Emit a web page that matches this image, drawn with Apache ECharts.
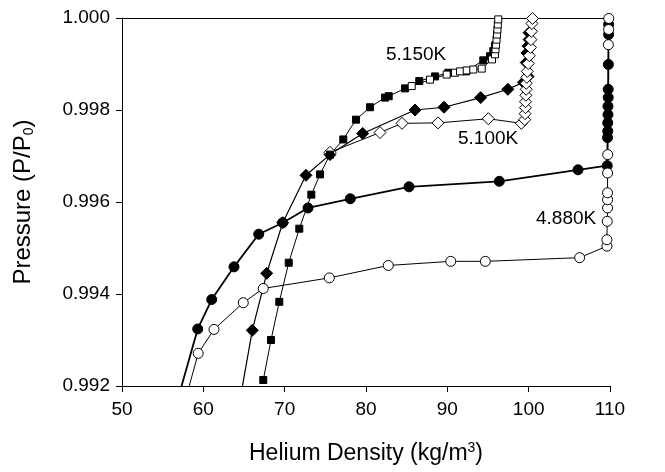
<!DOCTYPE html>
<html>
<head>
<meta charset="utf-8">
<script src="https://cdn.jsdelivr.net/npm/echarts@6/dist/echarts.min.js"></script>
<style>
html,body{margin:0;padding:0;background:#fff;}
#chart{width:665px;height:472px;}
</style>
</head>
<body>
<div id="chart"></div>
<script>
// x ticks / y ticks
const xTicks = [50, 60, 70, 80, 90, 100, 110];
const yTicks = [0.992, 0.994, 0.996, 0.998, 1.000];

// 4.880K filled circles [density, P/P0]
const k4880Filled = [
  [56.15,0.99127],[59.31,0.99324],[61.03,0.99388],[63.77,0.99459],[66.81,0.99530],
  [69.76,0.99555],[72.87,0.99587],[78.07,0.99607],[85.29,0.99633],[96.39,0.99645],
  [106.07,0.99670],[109.66,0.99679],[109.70,0.99740],[109.72,0.99754],[109.72,0.99772],
  [109.75,0.99790],[109.75,0.99808],[109.78,0.99827],[109.78,0.99845],[109.80,0.99899],
  [109.83,0.99964],[109.83,0.99986]
];
// 4.880K open circles
const k4880Open = [
  [57.13,0.99127],[59.37,0.99271],[61.31,0.99323],[64.91,0.99381],[67.37,0.99412],
  [75.49,0.99435],[82.74,0.99462],[90.42,0.99471],[94.67,0.99471],[106.27,0.99479],
  [109.62,0.99504],[109.62,0.99518],[109.66,0.99558],[109.70,0.99587],[109.70,0.99605],
  [109.70,0.99620],[109.70,0.99663],[109.72,0.99703],[109.80,0.99942],[109.83,0.99975],
  [109.85,0.99999]
];
// 5.100K filled diamonds
const k5100Filled = [
  [64.08,0.99127],[66.02,0.99321],[67.79,0.99445],[69.76,0.99555],[72.62,0.99658],
  [75.57,0.99703],[79.59,0.99749],[86.03,0.99800],[89.59,0.99806],[94.10,0.99827],
  [97.44,0.99845],[99.35,0.99860],[99.92,0.99873],[99.70,0.99903],[99.79,0.99924],
  [99.92,0.99939],[100.05,0.99953],[100.05,0.99968]
];
// 5.100K open diamonds
const k5100Open = [
  [75.57,0.99708],[81.72,0.99751],[84.43,0.99771],[88.85,0.99772],[95.04,0.99781],
  [99.11,0.99771],[99.51,0.99779],[99.56,0.99792],[99.61,0.99805],[99.61,0.99818],
  [99.66,0.99832],[99.70,0.99845],[99.70,0.99858],[99.77,0.99871],[99.83,0.99884],
  [99.96,0.99901],[100.09,0.99918],[100.22,0.99936],[100.28,0.99953],[100.34,0.99971],
  [100.40,0.99988],[100.47,0.99999]
];
// 5.150K filled squares
const k5150Filled = [
  [67.37,0.99213],[68.32,0.99300],[69.34,0.99383],[70.50,0.99468],[71.80,0.99542],
  [73.28,0.99616],[74.35,0.99660],[75.57,0.99703],[77.21,0.99736],[78.77,0.99779],
  [80.49,0.99806],[82.34,0.99827],[82.79,0.99830],[84.80,0.99847],[86.55,0.99863],
  [88.49,0.99873],[90.12,0.99881],[92.30,0.99884],[94.42,0.99908],[95.25,0.99917],
  [95.65,0.99928],[95.86,0.99940]
];
// 5.150K open squares
const k5150Open = [
  [85.62,0.99852],[87.87,0.99866],[89.92,0.99877],[90.94,0.99881],[91.56,0.99884],
  [92.38,0.99886],[93.19,0.99888],[94.23,0.99890],[95.49,0.99910],[95.86,0.99921],
  [95.92,0.99932],[95.99,0.99942],[96.05,0.99953],[96.11,0.99964],[96.16,0.99975],
  [96.21,0.99986],[96.26,0.99997]
];
const seriesLabels = ['5.150K', '5.100K', '4.880K'];

const chart = echarts.init(document.getElementById('chart'), null, {renderer:'canvas'});
const FONT = 'Liberation Sans, Arial, sans-serif';

function mk(name, data, symbol, size, filled, lw) {
  return {
    name: name, type: 'line', data: data, symbol: symbol, symbolSize: size,
    showAllSymbol: true, clip: true,
    lineStyle: {color: '#000', width: lw},
    itemStyle: {color: filled ? '#000' : '#fff', borderColor: '#000', borderWidth: 1, opacity: 1},
    emphasis: {disabled: true}, animation: false
  };
}

const option = {
  animation: false,
  backgroundColor: '#fff',
  grid: {left: 122, right: 55, top: 18, bottom: 86, containLabel: false},
  xAxis: [{
    type: 'value', min: xTicks[0], max: xTicks[xTicks.length-1], interval: 10,
    name: '{a|Helium Density (kg/m}{s|3}{a|)}',
    nameLocation: 'middle', nameGap: 55,
    nameTextStyle: {rich: {a: {fontFamily: FONT, fontSize: 23, color: '#000'}, s: {fontFamily: FONT, fontSize: 14, color: '#000', padding: [0,0,12,0]}}},
    axisLine: {show: true, lineStyle: {color: '#000', width: 1}},
    axisTick: {show: true, inside: false, length: 6, lineStyle: {color: '#000'}},
    axisLabel: {fontFamily: FONT, fontSize: 19, color: '#000', margin: 14},
    splitLine: {show: false}
  }, {
    type: 'value', position: 'top', min: xTicks[0], max: xTicks[xTicks.length-1],
    axisLine: {show: true, onZero: false, lineStyle: {color: '#000', width: 1}},
    axisTick: {show: false}, axisLabel: {show: false}, splitLine: {show: false}
  }],
  yAxis: {
    type: 'value', min: yTicks[0], max: yTicks[yTicks.length-1], interval: 0.002,
    name: '{a|Pressure (P/P}{s|0}{a|)}',
    nameLocation: 'middle', nameGap: 86, nameRotate: 90,
    nameTextStyle: {rich: {a: {fontFamily: FONT, fontSize: 24, color: '#000'}, s: {fontFamily: FONT, fontSize: 14, color: '#000', padding: [12,0,0,0]}}},
    axisLine: {show: true, lineStyle: {color: '#000', width: 1}},
    axisTick: {show: true, inside: false, length: 6, lineStyle: {color: '#000'}},
    axisLabel: {fontFamily: FONT, fontSize: 19, color: '#000', margin: 12, formatter: v => v.toFixed(3)},
    splitLine: {show: false}
  },
  series: [
    mk('4.880K filled', k4880Filled, 'circle', 10, true, 1.8),
    mk('4.880K open', k4880Open, 'circle', 10, false, 1),
    mk('5.100K filled', k5100Filled, 'diamond', 12, true, 1.2),
    mk('5.100K open', k5100Open, 'diamond', 12, false, 1),
    mk('5.150K filled', k5150Filled, 'rect', 7, true, 1),
    mk('5.150K open', k5150Open, 'rect', 7, false, 1)
  ],
  graphic: [
    {type: 'text', left: 386, top: 45, style: {text: seriesLabels[0], font: '19px ' + FONT, fill: '#000'}},
    {type: 'text', left: 458, top: 129, style: {text: seriesLabels[1], font: '19px ' + FONT, fill: '#000'}},
    {type: 'text', left: 536, top: 209, style: {text: seriesLabels[2], font: '19px ' + FONT, fill: '#000'}}
  ]
};
chart.setOption(option);
</script>
</body>
</html>
